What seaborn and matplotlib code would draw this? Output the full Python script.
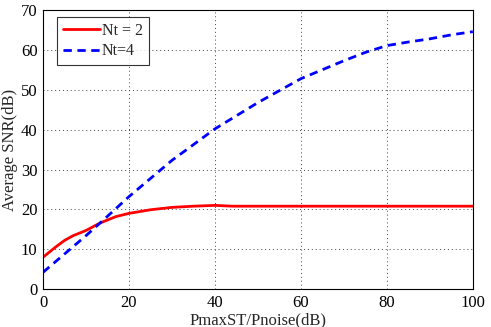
import pandas as pd
import numpy as np
import matplotlib
matplotlib.use("Agg")
import matplotlib.pyplot as plt
import seaborn as sns

# values
x_nt2 = [0, 3, 5, 7, 10, 13.3, 17, 20, 25, 30, 35, 40, 44, 50, 60, 70, 80, 90, 100]
snr_nt2 = [8.0, 10.6, 12.2, 13.4, 14.7, 16.6, 18.2, 19.0, 19.9, 20.5, 20.8, 21.0, 20.8, 20.8, 20.8, 20.8, 20.8, 20.8, 20.8]
x_nt4 = [0, 5, 10, 13.3, 20, 30, 40, 50, 60, 70, 75, 80, 85, 90, 95, 100]
snr_nt4 = [4.2, 8.8, 13.4, 16.6, 23.2, 32.3, 40.2, 46.8, 52.8, 57.3, 59.4, 61.1, 62.0, 62.8, 63.8, 64.6]

df = pd.concat([
    pd.DataFrame({"x": x_nt2, "snr": snr_nt2, "series": "Nt = 2"}),
    pd.DataFrame({"x": x_nt4, "snr": snr_nt4, "series": "Nt=4"}),
])

sns.set_style("white")
plt.rcParams["font.family"] = ["Liberation Serif", "DejaVu Serif"]

fig = plt.figure(figsize=(4.91, 3.27), dpi=100)
ax = fig.add_axes([0.0876, 0.116, 0.8754, 0.853])

sns.lineplot(data=df, x="x", y="snr", hue="series", style="series",
             palette={"Nt = 2": "#ff0000", "Nt=4": "#0000ff"},
             dashes={"Nt = 2": "", "Nt=4": (3, 2)}, linewidth=2, ax=ax)

ax.set_xlim(0, 100)
ax.set_ylim(0, 70)
ax.set_xticks(range(0, 101, 20))
ax.set_yticks(range(0, 71, 10))
ax.grid(True, color="#444444", linestyle=(0, (1, 3)), linewidth=0.7)
for s in ax.spines.values():
    s.set_color("black")
    s.set_linewidth(0.8)
ax.tick_params(direction="in", length=3, labelsize=12, colors="black", pad=4)
ax.set_xlabel("PmaxST/Pnoise(dB)", fontsize=12, labelpad=1)
ax.set_ylabel("Average SNR(dB)", fontsize=12, labelpad=2)

leg = ax.legend(loc="upper left", bbox_to_anchor=(0.033, 0.975), fontsize=11.5,
                frameon=True, fancybox=False, edgecolor="black",
                handlelength=2.3, borderaxespad=0, borderpad=0.35,
                handletextpad=0.15, labelspacing=0.3)
leg.get_frame().set_linewidth(0.8)

fig.savefig("out.png", dpi=100)
